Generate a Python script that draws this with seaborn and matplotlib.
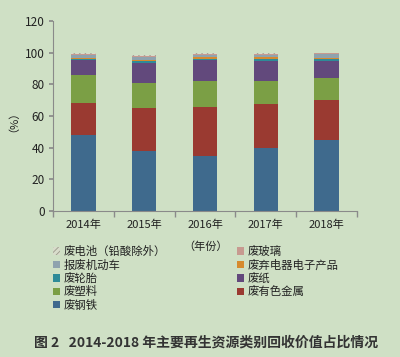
import matplotlib
matplotlib.use("Agg")
import matplotlib.pyplot as plt
from matplotlib.patches import Patch
import seaborn as sns
import pandas as pd
import numpy as np

years = ["2014年", "2015年", "2016年", "2017年", "2018年"]
# bottom to top
steel      = [48.2, 38.1, 34.5, 39.8, 44.6]   # 废钢铁
nonferrous = [20.0, 27.0, 31.0, 27.8, 25.3]   # 废有色金属
plastic    = [17.5, 16.0, 16.8, 14.3, 14.1]   # 废塑料
paper      = [9.5, 12.5, 13.0, 13.1, 11.0]    # 废纸
tire       = [1.0, 1.0, 0.8, 0.8, 0.8]        # 废轮胎
ewaste     = [0.3, 0.5, 1.2, 1.2, 1.0]        # 废弃电器电子产品
vehicles   = [2.0, 2.3, 1.5, 1.8, 2.2]        # 报废机动车
glass      = [0.5, 0.6, 0.5, 0.5, 0.5]        # 废玻璃
battery    = [0.5, 0.5, 0.4, 0.4, 0.4]        # 废电池（铅酸除外）

names = ["废钢铁", "废有色金属", "废塑料", "废纸", "废轮胎",
         "废弃电器电子产品", "报废机动车", "废玻璃", "废电池（铅酸除外）"]
series = [steel, nonferrous, plastic, paper, tire, ewaste, vehicles, glass, battery]
colors = ["#3f6a8d", "#9a3a31", "#7b9f45", "#62497c", "#2e8b98",
          "#d68a2e", "#8fa3ae", "#c79a90", "#d8dccb"]
HATCH_EC = "#9a9a8a"

BG = "#cfe0c5"
sns.set_theme(style="white")
plt.rcParams["font.family"] = ["Noto Sans CJK SC", "DejaVu Sans"]
plt.rcParams["hatch.linewidth"] = 0.6

fig = plt.figure(figsize=(4.0, 3.57), dpi=100, facecolor=BG)
ax = fig.add_axes([53/400, 1-211/357, 304/400, 190/357])
ax.set_facecolor(BG)

cum = np.zeros(len(years))
cums = []
for s in series:
    cum = cum + np.array(s)
    cums.append(cum.copy())

# draw from top layer down so lower layers cover upper ones
for i in range(len(series) - 1, -1, -1):
    d = pd.DataFrame({"year": years, "v": cums[i]})
    kw = dict(linewidth=0)
    if i == len(series) - 1:
        kw = dict(hatch="//////", edgecolor=HATCH_EC, linewidth=0)
    sns.barplot(data=d, x="year", y="v", order=years, color=colors[i],
                saturation=1, width=0.4, ax=ax, **kw)

ax.set_ylim(0, 120)
ax.set_yticks(range(0, 121, 20))
ax.set_xlim(-0.5, 4.5)
ax.set_xlabel("")
ax.set_ylabel("（%）", fontsize=8, color="#222")
ax.yaxis.set_label_coords(-0.13, 0.5)
for sp in ["top", "right"]:
    ax.spines[sp].set_visible(False)
for sp in ["left", "bottom"]:
    ax.spines[sp].set_color("#8a8a8a")
    ax.spines[sp].set_linewidth(0.8)
ax.tick_params(axis="y", which="major", length=3, color="#8a8a8a",
               labelsize=8.5, labelcolor="#222", pad=3, left=True)
ax.tick_params(axis="x", which="major", length=0, labelsize=8,
               labelcolor="#222", pad=6)
ax.set_xticks(np.arange(-0.5, 5, 1), minor=True)
ax.tick_params(axis="x", which="minor", length=4, color="#8a8a8a",
               bottom=True, direction="out")
ax.grid(False)

fig.text(206/400, 1-247/357, "（年份）", ha="center", va="center",
         fontsize=8, color="#222")

def handle(i):
    if i == len(series) - 1:
        return Patch(facecolor=colors[i], hatch="//////", edgecolor=HATCH_EC,
                     linewidth=0)
    return Patch(facecolor=colors[i], edgecolor="none")

col1 = [8, 6, 4, 2, 0]
col2 = [7, 5, 3, 1]
common = dict(frameon=False, fontsize=8.2, handlelength=0.6, handleheight=0.6,
              handletextpad=0.35, labelspacing=0.2, borderaxespad=0,
              borderpad=0)
leg1 = fig.legend([handle(i) for i in col1], [names[i] for i in col1],
                  loc="upper left", bbox_to_anchor=(53/400, 1-246/357), **common)
leg2 = fig.legend([handle(i) for i in col2], [names[i] for i in col2],
                  loc="upper left", bbox_to_anchor=(237/400, 1-246/357), **common)
for lg in (leg1, leg2):
    for t in lg.get_texts():
        t.set_color("#222")

fig.text(206/400, 1-343/357, "图 2   2014-2018 年主要再生资源类别回收价值占比情况",
         ha="center", va="center", fontsize=10, fontweight="bold", color="#333")

fig.savefig("out.png", dpi=100, facecolor=BG)
